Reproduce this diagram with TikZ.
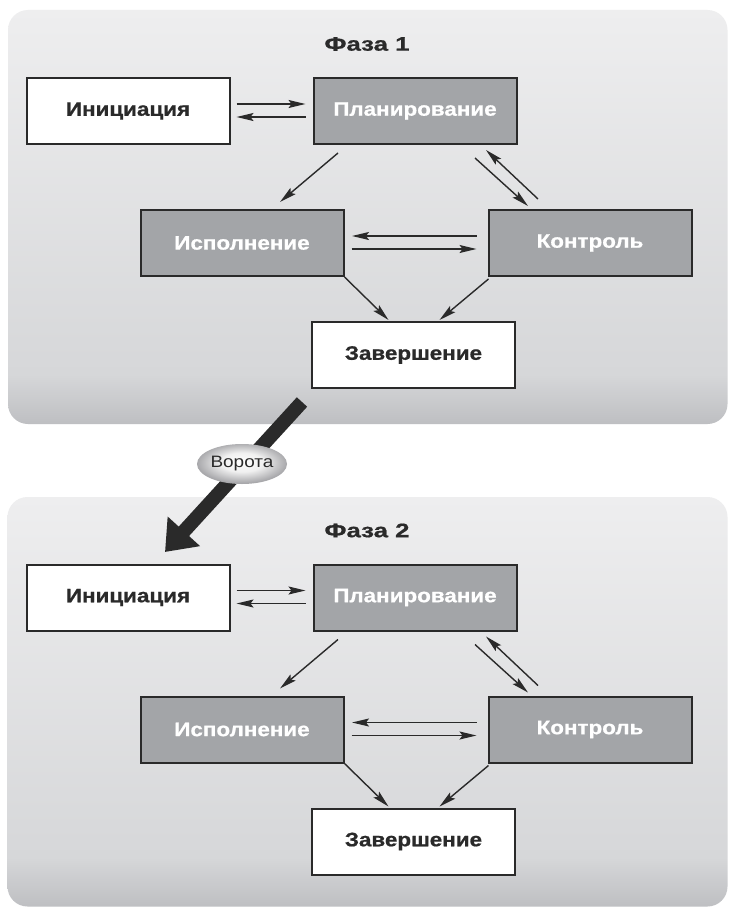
\documentclass[tikz,border=0pt]{standalone}
\usepackage{fontspec}
\setmainfont{Liberation Sans}[FakeStretch=1.15, BoldFeatures={FakeBold=0.8}]
\usetikzlibrary{arrows.meta,shapes.geometric,calc}
\definecolor{panTop}{RGB}{238,238,239}
\definecolor{panMid}{RGB}{214,215,217}
\definecolor{panBot}{RGB}{190,191,194}
\definecolor{boxGray}{RGB}{163,165,168}
\definecolor{ink}{RGB}{42,42,42}
\definecolor{gateEdge}{RGB}{168,168,171}
\pgfdeclareverticalshading{panelshade}{100bp}{color(0bp)=(panBot); color(25bp)=(panBot); color(31bp)=(panMid); color(75bp)=(panTop); color(100bp)=(panTop)}
\pgfdeclareradialshading{gateshade}{\pgfpoint{0bp}{3bp}}{color(0bp)=(white); color(12bp)=(white!94!black); color(25bp)=(gateEdge); color(50bp)=(gateEdge)}
\tikzset{
  panel/.style={shading=panelshade, rounded corners=20pt, draw=none},
  box/.style={draw=ink, line width=2pt, minimum width=203pt, minimum height=66pt, inner sep=0pt,
              font=\fontsize{19.5}{22}\selectfont\bfseries},
  wbox/.style={box, fill=white, text=ink},
  gbox/.style={box, fill=boxGray, text=white},
  phasetitle/.style={text=ink, font=\fontsize{19.5}{22}\selectfont\bfseries, inner sep=0pt},
  arr/.style={draw=ink, line width=1.4pt, -{Stealth[length=17pt,width=8pt,inset=3pt]}},
  bigarr/.style={draw=ink, line width=14pt, -{Triangle[length=28pt,width=42pt]}},
  gate/.style={ellipse, minimum width=90pt, minimum height=40pt, inner sep=0pt,
               shading=gateshade, text=ink, font=\fontsize{16.5}{18}\selectfont}
}
\newcommand\drawphase[3]{%
\begin{scope}[yshift=#2, name prefix=#1]
  \node[phasetitle] (title) at (367,44) {\scalebox{1.15}[1]{#3}};
  \node[wbox] (ini)  at (128,111) {Инициация};
  \node[gbox] (plan) at (415,111) {Планирование};
  \node[gbox] (exe)  at (242,243) {Исполнение};
  \node[gbox] (ctl)  at (590,243) {Контроль};
  \node[wbox] (fin)  at (413.5,355) {Завершение};
  \draw[arr] ([shift={(6,-7)}]ini.east) -- ([shift={(-7,-7)}]plan.west);
  \draw[arr] ([shift={(-7,6)}]plan.west) -- ([shift={(6,6)}]ini.east);
  \draw[arr] ([shift={(-77,8)}]plan.south) -- ([shift={(38,-7)}]exe.north);
  \draw[arr] ([shift={(60,13)}]plan.south) -- ([shift={(-62,-3)}]ctl.north);
  \draw[arr] ([shift={(-52,-10)}]ctl.north) -- ([shift={(71,5)}]plan.south);
  \draw[arr] ([shift={(-11,-7)}]ctl.west) -- ([shift={(7.5,-7)}]exe.east);
  \draw[arr] ([shift={(7,6)}]exe.east) -- ([shift={(-11,6)}]ctl.west);
  \draw[arr] (exe.south east) -- ([shift={(-25,-1)}]fin.north);
  \draw[arr] ([shift={(1,2)}]ctl.south west) -- ([shift={(26,-1)}]fin.north);
\end{scope}}
\begin{document}
\begin{tikzpicture}[x=1pt, y=-1pt]
  \useasboundingbox[fill=white] (0,0) rectangle (728,907);
  \path[panel] (8,10) rectangle (727.5,424);
  \path[panel] (7.5,497) rectangle (727.5,906.5);
  \drawphase{a-}{0pt}{Фаза 1}
  \drawphase{b-}{-486.5pt}{Фаза 2}
  \coordinate (gs) at (302,402);
  \coordinate (ge) at (165,552);
  \draw[bigarr] (gs) -- (ge);
  \node[gate] (gatenode) at (242,464) {Ворота};
\end{tikzpicture}
\end{document}
